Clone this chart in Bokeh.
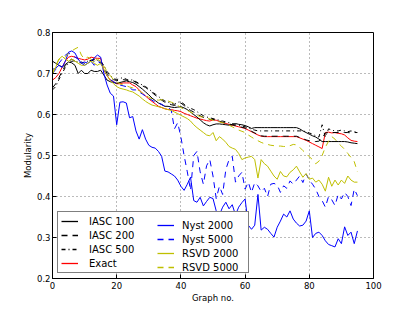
from bokeh.plotting import figure
from bokeh.models import Range1d, FixedTicker, Legend, LegendItem
from bokeh.embed import file_html
from bokeh.resources import INLINE

graph_no = list(range(96))

exact = [
    0.684, 0.69, 0.70, 0.715, 0.73, 0.74, 0.742, 0.74, 0.737, 0.735,
    0.733, 0.735, 0.74, 0.738, 0.737, 0.737, 0.708, 0.695, 0.684, 0.68,
    0.675, 0.675, 0.677, 0.677, 0.677, 0.672, 0.668, 0.66, 0.652, 0.645,
    0.638, 0.632, 0.626, 0.62, 0.617, 0.614, 0.612, 0.612, 0.61, 0.609,
    0.607, 0.603, 0.6, 0.597, 0.594, 0.591, 0.589, 0.587, 0.585, 0.584,
    0.587, 0.586, 0.583, 0.58, 0.578, 0.576, 0.574, 0.572, 0.57, 0.568,
    0.566, 0.562, 0.558, 0.554, 0.55, 0.547, 0.546, 0.546, 0.546, 0.546,
    0.546, 0.546, 0.546, 0.546, 0.546, 0.546, 0.546, 0.543, 0.54, 0.537,
    0.533, 0.529, 0.525, 0.521, 0.517, 0.556, 0.557, 0.555, 0.556, 0.554,
    0.553, 0.55, 0.543, 0.537, 0.535, 0.534]

iasc100 = [
    0.73, 0.725, 0.72, 0.716, 0.722, 0.728, 0.726, 0.72, 0.70, 0.708,
    0.70, 0.70, 0.708, 0.705, 0.705, 0.708, 0.696, 0.684, 0.68, 0.678,
    0.676, 0.678, 0.68, 0.682, 0.68, 0.678, 0.674, 0.668, 0.662, 0.655,
    0.648, 0.64, 0.634, 0.628, 0.624, 0.62, 0.62, 0.618, 0.617, 0.618,
    0.619, 0.616, 0.612, 0.606, 0.6, 0.594, 0.587, 0.58, 0.575, 0.572,
    0.575, 0.577, 0.577, 0.576, 0.575, 0.574, 0.575, 0.578, 0.576, 0.575,
    0.573, 0.57, 0.566, 0.568, 0.568, 0.568, 0.568, 0.568, 0.568, 0.568,
    0.568, 0.568, 0.568, 0.568, 0.568, 0.568, 0.568, 0.565, 0.56, 0.556,
    0.552, 0.548, 0.545, 0.54, 0.534, 0.534, 0.534, 0.534, 0.534, 0.534,
    0.534, 0.534, 0.533, 0.531, 0.53, 0.529]

iasc200 = [
    0.665, 0.675, 0.69, 0.705, 0.72, 0.73, 0.735, 0.73, 0.725, 0.728,
    0.725, 0.73, 0.732, 0.735, 0.73, 0.728, 0.715, 0.70, 0.69, 0.685,
    0.683, 0.683, 0.685, 0.684, 0.68, 0.683, 0.678, 0.675, 0.67, 0.666,
    0.66, 0.654, 0.647, 0.64, 0.635, 0.63, 0.627, 0.624, 0.622, 0.625,
    0.628, 0.622, 0.615, 0.61, 0.606, 0.601, 0.597, 0.593, 0.59, 0.588,
    0.588, 0.586, 0.584, 0.581, 0.579, 0.577, 0.575, 0.573, 0.571, 0.569,
    0.567, 0.563, 0.559, 0.555, 0.551, 0.548, 0.547, 0.547, 0.547, 0.547,
    0.547, 0.547, 0.547, 0.547, 0.547, 0.547, 0.547, 0.544, 0.541, 0.538,
    0.536, 0.535, 0.534, 0.535, 0.542, 0.555, 0.556, 0.556, 0.556, 0.556,
    0.556, 0.556, 0.556, 0.555, 0.556, 0.556]

iasc500 = [
    0.66, 0.668, 0.685, 0.70, 0.715, 0.725, 0.73, 0.73, 0.728, 0.725,
    0.728, 0.73, 0.733, 0.73, 0.732, 0.73, 0.72, 0.705, 0.695, 0.688,
    0.685, 0.688, 0.69, 0.686, 0.683, 0.685, 0.68, 0.676, 0.672, 0.668,
    0.662, 0.656, 0.65, 0.644, 0.638, 0.633, 0.63, 0.627, 0.625, 0.63,
    0.631, 0.625, 0.618, 0.615, 0.612, 0.607, 0.602, 0.597, 0.594, 0.592,
    0.59, 0.588, 0.586, 0.584, 0.582, 0.58, 0.578, 0.576, 0.574, 0.572,
    0.57, 0.567, 0.564, 0.562, 0.56, 0.56, 0.56, 0.56, 0.56, 0.56,
    0.56, 0.56, 0.56, 0.56, 0.56, 0.56, 0.56, 0.56, 0.56, 0.558,
    0.555, 0.552, 0.548, 0.545, 0.575, 0.545, 0.565, 0.562, 0.56, 0.56,
    0.562, 0.56, 0.558, 0.56, 0.558, 0.558]

nyst2000 = [
    0.71, 0.713, 0.72, 0.715, 0.73, 0.752, 0.755, 0.75, 0.735, 0.725,
    0.728, 0.725, 0.73, 0.738, 0.745, 0.74, 0.70, 0.672, 0.652, 0.645,
    0.575, 0.63, 0.631, 0.628, 0.592, 0.595, 0.56, 0.54, 0.563, 0.54,
    0.525, 0.52, 0.518, 0.51, 0.498, 0.462, 0.46, 0.455, 0.45, 0.44,
    0.425, 0.415, 0.43, 0.447, 0.39, 0.386, 0.398, 0.377, 0.388, 0.398,
    0.395, 0.365, 0.355, 0.374, 0.386, 0.37, 0.38, 0.355, 0.374, 0.385,
    0.394, 0.33, 0.32, 0.33, 0.405, 0.318, 0.325, 0.32, 0.31, 0.301,
    0.325, 0.34, 0.357, 0.35, 0.365, 0.345, 0.335, 0.328, 0.33, 0.34,
    0.365, 0.30, 0.31, 0.313, 0.305, 0.292, 0.283, 0.28, 0.277, 0.297,
    0.285, 0.326, 0.305, 0.313, 0.285, 0.316]

nyst5000 = [
    0.70, 0.71, 0.725, 0.735, 0.745, 0.75, 0.745, 0.74, 0.735, 0.725,
    0.72, 0.725, 0.73, 0.72, 0.73, 0.725, 0.71, 0.695, 0.685, 0.68,
    0.675, 0.672, 0.67, 0.668, 0.665, 0.66, 0.66, 0.655, 0.65, 0.645,
    0.64, 0.635, 0.63, 0.628, 0.625, 0.62, 0.618, 0.61, 0.565, 0.58,
    0.545, 0.50, 0.46, 0.415, 0.50, 0.51, 0.46, 0.43, 0.475, 0.49,
    0.45, 0.395, 0.425, 0.405, 0.466, 0.49, 0.498, 0.435, 0.45, 0.459,
    0.418, 0.435, 0.41, 0.434, 0.426, 0.412, 0.42, 0.40, 0.43, 0.432,
    0.428, 0.41, 0.426, 0.42, 0.438, 0.43, 0.44, 0.45, 0.434, 0.455,
    0.44, 0.43, 0.418, 0.40, 0.39, 0.374, 0.40, 0.392, 0.378, 0.405,
    0.394, 0.41, 0.40, 0.378, 0.418, 0.402]

rsvd2000 = [
    0.70, 0.715, 0.735, 0.742, 0.735, 0.73, 0.735, 0.73, 0.725, 0.72,
    0.72, 0.725, 0.73, 0.725, 0.72, 0.725, 0.71, 0.695, 0.683, 0.675,
    0.668, 0.664, 0.662, 0.66, 0.657, 0.655, 0.65, 0.645, 0.638, 0.632,
    0.627, 0.623, 0.621, 0.619, 0.617, 0.614, 0.612, 0.61, 0.606, 0.602,
    0.598, 0.594, 0.59, 0.584, 0.575, 0.568, 0.562, 0.556, 0.55, 0.548,
    0.556, 0.536, 0.546, 0.54, 0.532, 0.522, 0.518, 0.515, 0.505, 0.49,
    0.494, 0.496, 0.498, 0.49, 0.445, 0.49, 0.48, 0.474, 0.462, 0.45,
    0.442, 0.461, 0.45, 0.448, 0.459, 0.465, 0.474, 0.46, 0.447, 0.456,
    0.442, 0.445, 0.435, 0.44, 0.43, 0.413, 0.447, 0.425, 0.44, 0.428,
    0.44, 0.432, 0.45, 0.44, 0.435, 0.435]

rsvd5000 = [
    0.70, 0.72, 0.735, 0.735, 0.74, 0.75, 0.755, 0.76, 0.764, 0.745,
    0.735, 0.74, 0.735, 0.73, 0.735, 0.73, 0.718, 0.705, 0.695, 0.685,
    0.68, 0.675, 0.672, 0.67, 0.667, 0.665, 0.662, 0.658, 0.652, 0.647,
    0.642, 0.638, 0.636, 0.635, 0.636, 0.635, 0.633, 0.63, 0.627, 0.622,
    0.617, 0.613, 0.61, 0.606, 0.602, 0.598, 0.595, 0.593, 0.591, 0.589,
    0.586, 0.584, 0.582, 0.58, 0.578, 0.574, 0.57, 0.566, 0.562, 0.559,
    0.556, 0.55, 0.545, 0.54, 0.536, 0.532, 0.529, 0.527, 0.525, 0.524,
    0.523, 0.523, 0.522, 0.522, 0.524, 0.527, 0.526, 0.52, 0.512, 0.505,
    0.497, 0.49, 0.48, 0.486, 0.5, 0.52, 0.535, 0.546, 0.54, 0.53,
    0.523, 0.515, 0.505, 0.495, 0.485, 0.46]

labels_col1 = ["IASC 100", "IASC 200", "IASC 500", "Exact"]
labels_col2 = ["Nyst 2000", "Nyst 5000", "RSVD 2000", "RSVD 5000"]

x_ticks = [0, 20, 40, 60, 80, 100]
y_ticks = [0.2, 0.3, 0.4, 0.5, 0.6, 0.7, 0.8]

FONT = "DejaVu Sans"

p = figure(width=410, height=305, x_range=Range1d(0, 100), y_range=Range1d(0.2, 0.8),
           output_backend="svg", toolbar_location=None,
           min_border_left=52, min_border_right=37, min_border_top=32, min_border_bottom=25)
p.background_fill_color = "white"
p.border_fill_color = "white"
p.outline_line_color = "black"
p.outline_line_width = 1

p.xaxis.ticker = FixedTicker(ticks=x_ticks)
p.yaxis.ticker = FixedTicker(ticks=y_ticks)
for ax in (p.xaxis, p.yaxis):
    ax.axis_line_color = "black"
    ax.major_tick_in = 4
    ax.major_tick_out = 0
    ax.minor_tick_line_color = None
    ax.major_tick_line_color = "black"
    ax.major_label_text_font = FONT
    ax.major_label_text_font_size = "8.5px"
    ax.major_label_text_color = "black"
    ax.axis_label_text_font = FONT
    ax.axis_label_text_font_size = "8.5px"
    ax.axis_label_text_font_style = "normal"
    ax.axis_label_text_color = "black"
p.xaxis.axis_label = "Graph no."
p.yaxis.axis_label = "Modularity"
p.xaxis.major_label_standoff = 3
p.yaxis.major_label_standoff = 2
p.xaxis.axis_label_standoff = 1
p.yaxis.axis_label_standoff = 1

p.grid.grid_line_color = "#777777"
p.grid.grid_line_dash = "1 3"
p.grid.grid_line_width = 1

BLACK = "#000000"
RED = "#FF0000"
BLUE = "#0000FF"
YEL = "#BFBF00"

styles = {
    "IASC 100": (iasc100, BLACK, "solid"),
    "IASC 200": (iasc200, BLACK, "6 5"),
    "IASC 500": (iasc500, BLACK, "4 3 1 3"),
    "Exact": (exact, RED, "solid"),
    "Nyst 2000": (nyst2000, BLUE, "solid"),
    "Nyst 5000": (nyst5000, BLUE, "6 5"),
    "RSVD 2000": (rsvd2000, YEL, "solid"),
    "RSVD 5000": (rsvd5000, YEL, "6 5"),
}

draw_order = ["Exact", "IASC 100", "IASC 200", "IASC 500",
              "Nyst 2000", "Nyst 5000", "RSVD 2000", "RSVD 5000"]
for name in draw_order:
    ys, col, dash = styles[name]
    p.line(graph_no, ys, line_color=col, line_width=1.0, line_dash=dash)

# legend swatch renderers: same styles, placed outside the visible x range
key_x = [-20, -10]
key_y = [0.5, 0.5]
keys = {}
for name in labels_col1 + labels_col2:
    _, col, dash = styles[name]
    keys[name] = p.line(key_x, key_y, line_color=col, line_width=1.3, line_dash=dash)

common = dict(margin=0, padding=3, spacing=2, glyph_width=17, glyph_height=12,
              label_height=12, label_text_font=FONT, label_text_font_size="10px",
              label_text_color="black")

legend_a = Legend(items=[LegendItem(label=n, renderers=[keys[n]], index=0) for n in labels_col1],
                  location=(5, 5), label_width=156, label_standoff=11,
                  border_line_color="black", border_line_width=1,
                  background_fill_color="white", background_fill_alpha=1.0, **common)

legend_b = Legend(items=[LegendItem(label=n, renderers=[keys[n]], index=0) for n in labels_col2],
                  location=(105, 5), label_width=20, label_standoff=8,
                  border_line_color=None, background_fill_alpha=0.0, **common)

p.add_layout(legend_a)
p.add_layout(legend_b)

open("out.html", "w").write(file_html(p, INLINE))
